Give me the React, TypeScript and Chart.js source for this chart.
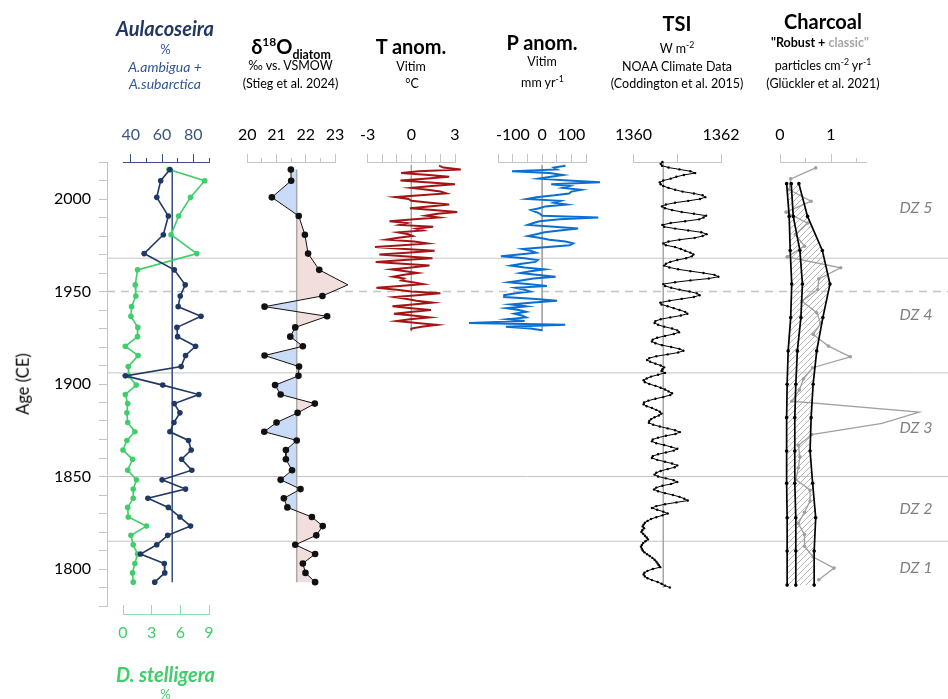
import React, { useEffect, useRef } from 'react';
import { Chart, registerables } from 'chart.js';

Chart.register(...registerables);

const FONT = 'Lato, "Open Sans", "DejaVu Sans", sans-serif';

// ---------------- data ----------------
// Diatom samples (age CE)
const diatomAges = [2015.9, 2009.9, 2000.9, 1990.8, 1980.7, 1970.5, 1961.7, 1953.6, 1947.6, 1941.8, 1936.6, 1930.6, 1925.6, 1920.4, 1915.4, 1909.4, 1904.4, 1899.4, 1894.3, 1889.4, 1884.4, 1879.2, 1874.2, 1869.5, 1864.3, 1859.3, 1853.4, 1848.2, 1843.2, 1838.2, 1833.3, 1828.1, 1823.2, 1818.2, 1813.1, 1808.1, 1803.0, 1797.9, 1792.9];
const aulacoseira = [65.0, 59.1, 56.6, 64.0, 60.8, 48.5, 67.8, 74.8, 71.6, 70.3, 84.9, 69.5, 69.9, 81.4, 75.0, 72.2, 36.5, 60.4, 83.5, 67.8, 71.4, 67.6, 65.0, 76.9, 78.6, 72.5, 79.0, 60.0, 75.0, 50.9, 64.0, 71.4, 78.2, 63.6, 56.6, 46.2, 61.4, 61.7, 55.3];
const stelligera = [4.8, 8.55, 7.07, 5.82, 5.03, 7.72, 1.52, 1.28, 1.34, 0.9, 0.83, 1.55, 1.52, 0.24, 1.58, 0.55, 0.59, 1.38, 0.24, 0.49, 0.41, 0.49, 1.24, 0.41, 0.0, 1.0, 0.49, 1.41, 1.07, 1.07, 0.49, 0.55, 2.45, 0.83, 1.07, 1.52, 1.24, 1.0, 1.07];
const d18O = [21.49, 21.50, 20.84, 21.76, 21.97, 22.08, 22.46, 23.44, 22.57, 20.59, 22.73, 21.64, 21.47, 21.90, 20.59, 21.77, 21.75, 20.95, 21.14, 22.31, 21.72, 21.0, 20.58, 21.69, 21.32, 21.32, 21.53, 21.14, 21.82, 21.25, 21.37, 22.21, 22.58, 22.36, 21.64, 22.32, 21.90, 21.99, 22.32];
const aulacoseiraMean = 66.5;
const d18OMean = 21.69;

// Vitim climate anomalies, annual from 2018 back to 1929
const climateFirstYear = 2018;
const tAnom = [
  1.9, 2.2, 3.4, 0.5, -0.7, 1.2, 2.6, 0.9, -0.75, 1.0,
  3.0, 1.4, 0.0, 1.1, 2.0, 2.4, 0.6, -1.1, -0.2, 0.0,
  1.3, 2.6, 1.2, -0.1, 1.5, 3.15, 1.8, 1.0, 1.9, 0.2,
  -1.5, -0.3, -0.8, 1.5, 0.35, 0.8, -0.9, -0.2, 0.1, -0.9,
  -1.7, 0.2, 1.1, -0.6, -2.5, -0.4, 1.6, -0.3, -2.2, -0.5,
  1.45, -0.5, -2.45, -0.6, 1.25, 0.0, -1.35, -0.4, 0.45, -0.5,
  -1.25, -0.5, -0.7, 0.1, 0.8, -0.8, -2.4, -1.0, 0.0, 2.0,
  0.4, -1.15, -0.3, 0.35, 1.45, 0.1, -1.3, 0.0, 1.35, 0.1,
  -1.2, 0.1, 1.25, -0.1, -1.0, 0.4, 1.75, 0.7, 0.0, 0.0,
];
const pAnom = [
  80, 40, 51, -103, 25, 71, 30, -11, 90, 198,
  31, 94, 70, 134, 100, 92, 43, -20, -53, 62,
  40, 83, 11, -10, -38, -21, -7, 0, 192, 60,
  -9, -30, -49, 40, 123, 60, 8, -20, -49, -10,
  25, 80, 106, 94, 20, -67, -40, -21, -80, -141,
  -60, -15, -23, -70, -107, -60, 8, -40, -75, -20,
  46, -30, -72, -115, -50, 16, -90, -60, -41, -90,
  -130, -130, -20, 51, -30, -107, -55, -122, -80, -55,
  -95, -70, -55, -120, -60, -250, 79, -124, -40, 0,
];

// TSI, annual from 2020 back to 1790
const tsiFirstYear = 2020;
const tsi = [
  1360.66, 1360.62, 1360.65, 1360.80, 1361.05, 1361.30, 1361.41, 1361.15, 1360.98, 1360.85,
  1360.68, 1360.60, 1360.62, 1360.68, 1360.80, 1360.95, 1361.12, 1361.38, 1361.58, 1361.64,
  1361.52, 1361.25, 1360.95, 1360.74, 1360.65, 1360.72, 1360.88, 1361.10, 1361.38, 1361.66,
  1361.60, 1361.50, 1361.18, 1360.85, 1360.66, 1360.70, 1360.95, 1361.25, 1361.55, 1361.67,
  1361.58, 1361.40, 1361.05, 1360.80, 1360.68, 1360.74, 1360.95, 1361.08, 1361.18, 1361.30,
  1361.37, 1361.33, 1361.20, 1361.00, 1360.84, 1360.74, 1360.70, 1360.82, 1361.02, 1361.30,
  1361.60, 1361.85, 1361.94, 1361.72, 1361.30, 1360.95, 1360.68, 1360.72, 1360.86, 1361.05,
  1361.28, 1361.45, 1361.51, 1361.38, 1361.10, 1360.82, 1360.61, 1360.64, 1360.78, 1360.92,
  1361.05, 1361.18, 1361.23, 1361.08, 1360.84, 1360.62, 1360.50, 1360.48, 1360.56, 1360.70,
  1360.88, 1361.00, 1361.04, 1360.92, 1360.72, 1360.54, 1360.44, 1360.42, 1360.50, 1360.65,
  1360.86, 1361.05, 1361.14, 1361.02, 1360.78, 1360.52, 1360.36, 1360.31, 1360.38, 1360.50,
  1360.62, 1360.70, 1360.66, 1360.64, 1360.72, 1360.56, 1360.40, 1360.30, 1360.23, 1360.26,
  1360.36, 1360.50, 1360.62, 1360.72, 1360.80, 1360.88, 1360.84, 1360.68, 1360.50, 1360.34,
  1360.24, 1360.23, 1360.30, 1360.42, 1360.52, 1360.60, 1360.64, 1360.58, 1360.48, 1360.40,
  1360.36, 1360.35, 1360.45, 1360.60, 1360.78, 1360.95, 1361.06, 1360.96, 1360.74, 1360.56,
  1360.44, 1360.42, 1360.52, 1360.70, 1360.86, 1361.00, 1360.92, 1360.74, 1360.56, 1360.44,
  1360.42, 1360.54, 1360.72, 1360.88, 1361.00, 1360.94, 1360.78, 1360.62, 1360.52, 1360.48,
  1360.56, 1360.74, 1360.92, 1361.00, 1360.86, 1360.66, 1360.52, 1360.47, 1360.56, 1360.72,
  1360.90, 1361.05, 1361.16, 1361.24, 1360.98, 1360.72, 1360.52, 1360.42, 1360.54, 1360.68,
  1360.78, 1360.66, 1360.52, 1360.40, 1360.32, 1360.26, 1360.23, 1360.21, 1360.24, 1360.20,
  1360.18, 1360.22, 1360.26, 1360.30, 1360.33, 1360.27, 1360.22, 1360.19, 1360.17, 1360.19,
  1360.21, 1360.25, 1360.31, 1360.37, 1360.43, 1360.48, 1360.52, 1360.55, 1360.58, 1360.61,
  1360.44, 1360.32, 1360.25, 1360.23, 1360.26, 1360.32, 1360.42, 1360.55, 1360.64, 1360.72,
  1360.83,
];
const tsiRef = 1360.68;

// Charcoal
const robustAges = [2008.3, 1990.6, 1972.2, 1954.0, 1935.9, 1917.9, 1899.9, 1881.8, 1863.8, 1846.3, 1827.7, 1809.7, 1791.3];
const robustLow = [0.13, 0.18, 0.20, 0.23, 0.21, 0.16, 0.14, 0.13, 0.13, 0.13, 0.14, 0.14, 0.14];
const robustMid = [0.22, 0.26, 0.39, 0.44, 0.41, 0.34, 0.31, 0.29, 0.29, 0.29, 0.31, 0.31, 0.31];
const robustHigh = [0.37, 0.54, 0.83, 0.98, 0.84, 0.72, 0.65, 0.61, 0.59, 0.64, 0.70, 0.67, 0.67];
const classicAges = [2016.8, 2010.9, 2005.0, 1998.8, 1992.9, 1987.0, 1980.8, 1974.5, 1968.7, 1962.8, 1956.8, 1951.1, 1944.8, 1938.5, 1932.8, 1926.8, 1920.5, 1914.7, 1908.8, 1902.8, 1896.7, 1890.7, 1884.8, 1878.7, 1872.7, 1866.8, 1860.6, 1854.7, 1848.4, 1842.6, 1836.7, 1830.7, 1824.6, 1818.6, 1812.3, 1806.5, 1800.5, 1794.2];
const classic = [0.70, 0.21, 0.18, 0.61, 0.12, 0.54, 0.30, 0.48, 0.14, 1.19, 0.76, 0.74, 0.43, 0.72, 0.80, 0.65, 0.95, 1.38, 0.64, 0.46, 0.38, 0.23, 2.73, 2.0, 0.62, 0.36, 0.39, 0.36, 0.31, 0.59, 0.59, 0.48, 0.36, 0.48, 0.48, 0.65, 1.06, 0.76];

// Zones and age axis
const zoneBoundaries = [1968, 1906, 1850, 1815];
const dashedBoundary = 1950;
const zoneLabels = ['DZ 5', 'DZ 4', 'DZ 3', 'DZ 2', 'DZ 1'];
const zoneLabelY = [207, 314, 427, 508, 567];
const ageTicks = [1780, 1790, 1800, 1810, 1820, 1830, 1840, 1850, 1860, 1870, 1880, 1890, 1900, 1910, 1920, 1930, 1940, 1950, 1960, 1970, 1980, 1990, 2000, 2010, 2020];
const ageLabels = [1800, 1850, 1900, 1950, 2000];

// axis ticks: all tick marks, long (major) tick marks, labelled ticks
const aulTicks = [40, 50, 60, 70, 80, 90];
const aulMajor = [40, 60, 80];
const stelTicks = [0, 3, 6, 9];
const d18OTicks = [20, 20.5, 21, 21.5, 22, 22.5, 23];
const d18OMajor = [20, 21, 22, 23];
const tTicks = [-3, -2, -1, 0, 1, 2, 3];
const tLabels = [-3, 0, 3];
const pTicks = [-150, -100, -50, 0, 50, 100, 150];
const pLabels = [-100, 0, 100];
const tsiTicks = [1360, 1361, 1362];
const tsiLabels = [1360, 1362];
const charTicks = [0, 0.5, 1, 1.5];
const charMajor = [0, 1];

// ---------------- colours ----------------
const NAVY = '#203864';
const NAVY_AX = '#3b5580';
const GREEN = '#3ecf6a';
const GREEN_AX = '#8fe0a8';
const GREY_AX = '#c4c4c4';
const TRED = '#a31515';
const PBLUE = '#0a6fd0';

// ---------------- helpers ----------------
const pts = (ages: number[], vals: number[]) => ages.map((y, i) => ({ x: vals[i], y }));
const annual = (first: number, vals: number[]) => vals.map((v, i) => ({ x: v, y: first - i }));
const vline = (value: number, a: number, b: number) => [{ x: value, y: a }, { x: value, y: b }];
const has = (arr: number[], v: number) => arr.some((a) => Math.abs(a - v) < 1e-9);

const series = (data: any[], color: string, width: number, radius: number, extra: any = {}) => ({
  data,
  borderColor: color,
  backgroundColor: color,
  borderWidth: width,
  pointRadius: radius,
  pointBorderWidth: 0,
  pointHoverRadius: 0,
  clip: false,
  tension: 0,
  ...extra,
});

function topAxis(min: number, max: number, ticks: number[], major: number[], labels: number[], color: string, labelColor: string) {
  return {
    type: 'linear',
    position: 'top',
    min,
    max,
    afterBuildTicks: (s: any) => { s.ticks = ticks.map((v) => ({ value: v })); },
    afterFit: (s: any) => { s.height = 40; },
    ticks: {
      autoSkip: false,
      maxRotation: 0,
      padding: 10,
      color: labelColor,
      font: { family: FONT, size: 16 },
      callback: (v: number) => (has(labels, v) ? String(v) : ''),
    },
    grid: {
      drawOnChartArea: false,
      drawTicks: true,
      tickLength: 8,
      color,
      // short (minor) tick marks: hide the upper half of the mark
      tickBorderDash: (c: any) => (c.tick && has(major, c.tick.value) ? [] : [0, 4, 5, 0]),
    },
    border: { display: true, color },
  };
}

function bottomAxis(min: number, max: number, ticks: number[], labels: number[], color: string, labelColor: string) {
  return {
    type: 'linear',
    position: 'bottom',
    min,
    max,
    afterBuildTicks: (s: any) => { s.ticks = ticks.map((v) => ({ value: v })); },
    afterFit: (s: any) => { s.height = 60; },
    ticks: {
      autoSkip: false,
      maxRotation: 0,
      padding: 18,
      color: labelColor,
      font: { family: FONT, size: 16 },
      callback: (v: number) => (has(labels, v) ? String(v) : ''),
    },
    grid: { drawOnChartArea: false, drawTicks: true, tickLength: -9, color },
    border: { display: true, color },
  };
}

const hiddenAge = (min = 1780) => ({ type: 'linear', min, max: 2020, display: false });

function baseOptions(padding: any, scales: any) {
  return {
    responsive: false,
    maintainAspectRatio: false,
    animation: false,
    events: [],
    indexAxis: 'y',
    layout: { padding },
    plugins: { legend: { display: false }, tooltip: { enabled: false } },
    scales,
  };
}

function refFillPlugin(datasetIndex: number, scaleId: string, value: number, leftColor: string, rightColor: string) {
  return {
    id: 'refFill',
    beforeDatasetsDraw(chart: any) {
      const pts = chart.getDatasetMeta(datasetIndex).data as any[];
      if (!pts.length) return;
      const ref = chart.scales[scaleId].getPixelForValue(value);
      const ctx = chart.ctx as CanvasRenderingContext2D;
      const trace = () => {
        ctx.beginPath();
        ctx.moveTo(ref, pts[0].y);
        for (const p of pts) ctx.lineTo(p.x, p.y);
        ctx.lineTo(ref, pts[pts.length - 1].y);
        ctx.closePath();
      };
      ctx.save();
      ctx.beginPath();
      ctx.rect(0, 0, ref, chart.height);
      ctx.clip();
      trace();
      ctx.fillStyle = leftColor;
      ctx.fill();
      ctx.restore();
      ctx.save();
      ctx.beginPath();
      ctx.rect(ref, 0, chart.width - ref, chart.height);
      ctx.clip();
      trace();
      ctx.fillStyle = rightColor;
      ctx.fill();
      ctx.restore();
    },
  };
}

function bandFillPlugin(lowIndex: number, highIndex: number) {
  return {
    id: 'bandFill',
    beforeDatasetsDraw(chart: any) {
      const a = chart.getDatasetMeta(lowIndex).data as any[];
      const b = chart.getDatasetMeta(highIndex).data as any[];
      if (!a.length || !b.length) return;
      const ctx = chart.ctx as CanvasRenderingContext2D;
      const tile = document.createElement('canvas');
      tile.width = 6;
      tile.height = 6;
      const g = tile.getContext('2d')!;
      g.strokeStyle = '#b5b5b5';
      g.lineWidth = 1;
      g.beginPath();
      g.moveTo(0, 6); g.lineTo(6, 0);
      g.moveTo(-1, 1); g.lineTo(1, -1);
      g.moveTo(5, 7); g.lineTo(7, 5);
      g.stroke();
      const pattern = ctx.createPattern(tile, 'repeat');
      ctx.save();
      ctx.beginPath();
      a.forEach((p, i) => (i ? ctx.lineTo(p.x, p.y) : ctx.moveTo(p.x, p.y)));
      for (let i = b.length - 1; i >= 0; i--) ctx.lineTo(b[i].x, b[i].y);
      ctx.closePath();
      if (pattern) ctx.fillStyle = pattern;
      ctx.fill();
      ctx.restore();
    },
  };
}

// ---------------- chart configs ----------------
const makeBackground = () => ({
  type: 'line',
  data: {
    datasets: [
      ...zoneBoundaries.map((a) => series([{ x: 0, y: a }, { x: 1, y: a }], '#c4c4c4', 1, 0)),
      series([{ x: 0, y: dashedBoundary }, { x: 1, y: dashedBoundary }], '#c4c4c4', 1.6, 0, { borderDash: [8, 6] }),
    ],
  },
  options: {
    ...baseOptions({ top: 162, bottom: 93, left: 0, right: 0 }, {
      x: { type: 'linear', min: 0, max: 1, display: false },
      y: {
        type: 'linear',
        position: 'left',
        min: 1780,
        max: 2020,
        afterBuildTicks: (s: any) => { s.ticks = ageTicks.map((v) => ({ value: v })); },
        afterFit: (s: any) => { s.width = 107; },
        ticks: {
          autoSkip: false,
          padding: 8,
          color: '#000',
          font: { family: FONT, size: 16 },
          callback: (v: number) => (has(ageLabels, v) ? String(v) : ''),
        },
        grid: { drawOnChartArea: false, drawTicks: true, tickLength: 8, color: GREY_AX },
        border: { display: true, color: GREY_AX },
      },
    }),
    indexAxis: 'x',
  },
});

const makeDiatom = () => ({
  type: 'line',
  data: {
    datasets: [
      series(pts(diatomAges, aulacoseira), NAVY, 1.6, 2.8, { xAxisID: 'x' }),
      series(pts(diatomAges, stelligera), GREEN, 1.6, 2.8, { xAxisID: 'x2' }),
      series(vline(aulacoseiraMean, diatomAges[0], diatomAges[diatomAges.length - 1]), NAVY_AX, 1, 0, { xAxisID: 'x' }),
    ],
  },
  options: baseOptions({ left: 30, right: 30, top: 122, bottom: 25 }, {
    x: topAxis(35, 90, aulTicks, aulMajor, aulMajor, NAVY_AX, NAVY_AX),
    x2: bottomAxis(0, 9, stelTicks, stelTicks, GREEN_AX, GREEN),
    y: hiddenAge(1775.68),
  }),
});

const makeD18O = () => ({
  type: 'line',
  data: {
    datasets: [
      series(pts(diatomAges, d18O), '#111', 1, 3.3),
      series(vline(d18OMean, diatomAges[0], diatomAges[diatomAges.length - 1]), '#a9a9a9', 1.5, 0),
    ],
  },
  options: baseOptions({ left: 27.3, right: 30, top: 122, bottom: 93 }, {
    x: topAxis(20, 23, d18OTicks, d18OMajor, d18OMajor, GREY_AX, '#000'),
    y: hiddenAge(),
  }),
  plugins: [refFillPlugin(0, 'x', d18OMean, '#c9dbf6', '#f2dfdd')],
});

const makeT = () => ({
  type: 'line',
  data: {
    datasets: [
      series(annual(climateFirstYear, tAnom), TRED, 2, 0),
      series(vline(0, climateFirstYear + 0.5, climateFirstYear - tAnom.length + 0.5), '#a6a6a6', 1, 0),
    ],
  },
  options: baseOptions({ left: 27.7, right: 30, top: 122, bottom: 93 }, {
    x: topAxis(-3, 3, tTicks, tTicks, tLabels, GREY_AX, '#000'),
    y: hiddenAge(),
  }),
});

const makeP = () => ({
  type: 'line',
  data: {
    datasets: [
      series(annual(climateFirstYear, pAnom), PBLUE, 2, 0),
      series(vline(0, climateFirstYear + 0.5, climateFirstYear - pAnom.length + 0.5), '#a6a6a6', 1, 0),
    ],
  },
  options: baseOptions({ left: 38.3, right: 24, top: 122, bottom: 93 }, {
    x: topAxis(-150, 150, pTicks, pTicks, pLabels, GREY_AX, '#000'),
    y: hiddenAge(),
  }),
});

const makeTSI = () => ({
  type: 'line',
  data: {
    datasets: [
      series(annual(tsiFirstYear, tsi), '#000', 1, 1.2),
      series(vline(tsiRef, tsiFirstYear, tsiFirstYear - tsi.length + 1), '#a6a6a6', 1, 0),
    ],
  },
  options: baseOptions({ left: 28.3, right: 29, top: 122, bottom: 93 }, {
    x: topAxis(1360, 1362, tsiTicks, tsiTicks, tsiLabels, GREY_AX, '#000'),
    y: hiddenAge(),
  }),
});

const makeCharcoal = () => ({
  type: 'line',
  data: {
    datasets: [
      series(pts(robustAges, robustLow), '#000', 1.7, 1.8),
      series(pts(robustAges, robustMid), '#000', 1.7, 1.8),
      series(pts(robustAges, robustHigh), '#000', 1.7, 1.8),
      series(pts(classicAges, classic), '#a0a0a0', 1.3, 1.8),
    ],
  },
  options: baseOptions({ left: 25, right: 81.3, top: 122, bottom: 93 }, {
    x: topAxis(0, 1.7, charTicks, charMajor, charMajor, GREY_AX, '#000'),
    y: hiddenAge(),
  }),
  plugins: [bandFillPlugin(0, 2)],
});

// ---------------- components ----------------
function ChartCanvas({ left, width, make }: { left: number; width: number; make: () => any }) {
  const ref = useRef<HTMLCanvasElement>(null);
  useEffect(() => {
    const chart = new Chart(ref.current as HTMLCanvasElement, make());
    return () => chart.destroy();
  }, []);
  return (
    <canvas
      ref={ref}
      width={width}
      height={699}
      style={{ position: 'absolute', left, top: 0, width, height: 699 }}
    />
  );
}

function Txt({ x, y, children, style }: { x: number; y: number; children: any; style?: any }) {
  return (
    <div
      style={{
        position: 'absolute',
        left: x,
        top: y,
        transform: 'translate(-50%, -50%)',
        whiteSpace: 'nowrap',
        lineHeight: 1,
        fontSize: 12,
        fontWeight: 400,
        color: '#000',
        ...style,
      }}
    >
      {children}
    </div>
  );
}

const sup = { fontSize: '0.7em', verticalAlign: 'super', lineHeight: 0 };
const sup2 = { fontSize: '0.6em', verticalAlign: 'super', lineHeight: 0 };
const sub2 = { fontSize: '0.62em', verticalAlign: 'sub', lineHeight: 0 };
const head = { fontSize: 20, fontWeight: 700 };
const subText = { fontSize: 12.5 };

export default function App() {
  return (
    <div
      style={{
        position: 'fixed',
        left: 0,
        top: 0,
        width: 948,
        height: 699,
        background: '#fff',
        overflow: 'hidden',
        fontFamily: FONT,
      }}
    >
      <ChartCanvas left={0} width={948} make={makeBackground} />
      <ChartCanvas left={93} width={146} make={makeDiatom} />
      <ChartCanvas left={220} width={145} make={makeD18O} />
      <ChartCanvas left={340} width={145} make={makeT} />
      <ChartCanvas left={460} width={150} make={makeP} />
      <ChartCanvas left={605} width={145} make={makeTSI} />
      <ChartCanvas left={755} width={193} make={makeCharcoal} />

      {/* Aulacoseira */}
      <Txt x={165} y={28} style={{ fontSize: 20, fontWeight: 700, fontStyle: 'italic', color: NAVY }}>Aulacoseira</Txt>
      <Txt x={165.5} y={49} style={{ fontSize: 13, color: '#2f5597' }}>%</Txt>
      <Txt x={165} y={67} style={{ fontStyle: 'italic', fontSize: 14, color: '#2f5597' }}>A.ambigua +</Txt>
      <Txt x={165} y={84} style={{ fontStyle: 'italic', fontSize: 14, color: '#2f5597' }}>A.subarctica</Txt>

      {/* d18O */}
      <Txt x={291} y={46} style={head}>
        δ<span style={sup2}>18</span>O<span style={sub2}>diatom</span>
      </Txt>
      <Txt x={290.5} y={66} style={subText}>‰ vs. VSMOW</Txt>
      <Txt x={290.5} y={84} style={subText}>(Stieg et al. 2024)</Txt>

      {/* T anom */}
      <Txt x={411} y={46} style={head}>T anom.</Txt>
      <Txt x={411} y={67} style={subText}>Vitim</Txt>
      <Txt x={412} y={84} style={subText}>°C</Txt>

      {/* P anom */}
      <Txt x={542} y={42} style={head}>P anom.</Txt>
      <Txt x={542} y={62} style={subText}>Vitim</Txt>
      <Txt x={542.5} y={83} style={subText}>
        mm yr<span style={sup}>-1</span>
      </Txt>

      {/* TSI */}
      <Txt x={677} y={23} style={head}>TSI</Txt>
      <Txt x={677} y={49} style={subText}>
        W m<span style={sup}>-2</span>
      </Txt>
      <Txt x={677} y={67} style={subText}>NOAA Climate Data</Txt>
      <Txt x={677} y={84} style={subText}>(Coddington et al. 2015)</Txt>

      {/* Charcoal */}
      <Txt x={823} y={21} style={head}>Charcoal</Txt>
      <Txt x={820} y={43} style={{ fontSize: 12.5, fontWeight: 700 }}>
        "Robust + <span style={{ color: '#a6a6a6' }}>classic"</span>
      </Txt>
      <Txt x={823} y={66} style={subText}>
        particles cm<span style={sup}>-2</span> yr<span style={sup}>-1</span>
      </Txt>
      <Txt x={823} y={84} style={subText}>(Glückler et al. 2021)</Txt>

      {/* Age axis title */}
      <Txt x={23} y={384} style={{ fontSize: 16.5, fontWeight: 400, color: '#000', transform: 'translate(-50%, -50%) rotate(-90deg)' }}>Age (CE)</Txt>

      {/* D. stelligera */}
      <Txt x={165.5} y={674} style={{ fontSize: 20, fontWeight: 700, fontStyle: 'italic', color: GREEN }}>D. stelligera</Txt>
      <Txt x={165.5} y={694} style={{ fontSize: 13, color: GREEN }}>%</Txt>

      {/* zone labels */}
      {zoneLabels.map((z, i) => (
        <Txt key={z} x={916} y={zoneLabelY[i]} style={{ fontSize: 16, fontStyle: 'italic', color: '#808080' }}>
          {z}
        </Txt>
      ))}
    </div>
  );
}
